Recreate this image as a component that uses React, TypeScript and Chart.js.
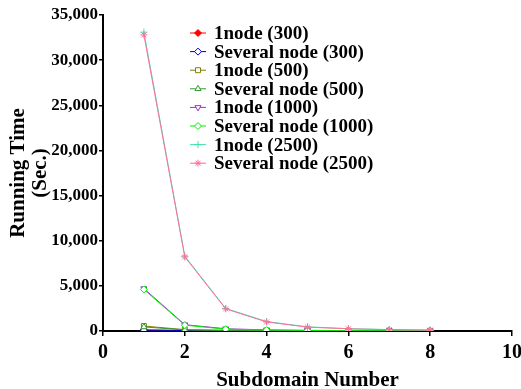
import React, { useEffect, useRef } from "react";
import { Chart, registerables } from "chart.js";
import { drawPoint } from "chart.js/helpers";

Chart.register(...registerables);

const xValues = [1, 2, 3, 4, 5, 6, 7, 8];
const seriesNames = [
  "1node (300)",
  "Several node (300)",
  "1node (500)",
  "Several node (500)",
  "1node (1000)",
  "Several node (1000)",
  "1node (2500)",
  "Several node (2500)",
];
const oneNode300 = [120, 60, 30, 20, 15, 10, 8, 6];
const severalNode300 = [100, 50, 25, 15, 10, 8, 6, 5];
const oneNode500 = [550, 150, 80, 50, 35, 25, 20, 15];
const severalNode500 = [450, 120, 60, 40, 30, 20, 15, 12];
const oneNode1000 = [4700, 700, 250, 120, 70, 50, 35, 25];
const severalNode1000 = [4600, 650, 200, 100, 60, 40, 30, 20];
const oneNode2500 = [33100, 8300, 2500, 1050, 460, 260, 160, 110];
const severalNode2500 = [32800, 8200, 2450, 1000, 430, 240, 140, 95];
const yTicksMax = 35000;
const yStep = 5000;
const xMax = 10;
const xStep = 2;

const colors = ["#ff0000", "#0000cc", "#808000", "#339933", "#9933cc", "#00ee00", "#40e0b0", "#ff6f9a"];
const pointStyles = ["rectRot", "rectRot", "rect", "triangle", "triangle", "rectRot", "cross", "star"];
const rotations = [0, 0, 0, 0, 180, 0, 0, 0];
const filled = [true, false, false, false, false, false, false, false];
const allValues = [oneNode300, severalNode300, oneNode500, severalNode500, oneNode1000, severalNode1000, oneNode2500, severalNode2500];

const FONT = "'Liberation Serif', 'Times New Roman', serif";

const legendPlugin = {
  id: "customLegend",
  afterDraw(chart: any) {
    const ctx = chart.ctx;
    ctx.save();
    const x0 = 190;
    const y0 = 33;
    const dy = 18.6;
    seriesNames.forEach((name, i) => {
      const y = y0 + i * dy;
      ctx.strokeStyle = colors[i];
      ctx.lineWidth = 1;
      ctx.beginPath();
      ctx.moveTo(x0, y);
      ctx.lineTo(x0 + 16, y);
      ctx.stroke();
      ctx.fillStyle = filled[i] ? colors[i] : "#ffffff";
      drawPoint(ctx, { pointStyle: pointStyles[i], rotation: rotations[i], radius: 3.5, borderWidth: 1 } as any, x0 + 8, y);
      ctx.fillStyle = "#000000";
      ctx.font = `bold 19px ${FONT}`;
      ctx.textBaseline = "middle";
      ctx.textAlign = "left";
      ctx.fillText(name, x0 + 24, y + 1);
    });
    ctx.restore();
  },
};

export default function App() {
  const ref = useRef<HTMLCanvasElement>(null);
  useEffect(() => {
    if (!ref.current) return;
    const datasets = allValues.map((vals, i) => ({
      label: seriesNames[i],
      data: xValues.map((x, j) => ({ x, y: vals[j] })),
      borderColor: colors[i],
      backgroundColor: filled[i] ? colors[i] : "#ffffff",
      pointStyle: pointStyles[i],
      rotation: rotations[i],
      pointRadius: 3.5,
      pointBorderWidth: 1,
      borderWidth: 1,
      tension: 0,
      order: 10 - i,
    }));
    const chart = new Chart(ref.current, {
      type: "line",
      data: { datasets },
      plugins: [legendPlugin],
      options: {
        animation: false,
        responsive: false,
        maintainAspectRatio: false,
        layout: { padding: { top: 15, right: 9, left: 0, bottom: 0 } },
        plugins: { legend: { display: false }, tooltip: { enabled: false } },
        scales: {
          x: {
            type: "linear",
            min: 0,
            max: xMax,
            ticks: { stepSize: xStep, color: "#000", font: { family: FONT, size: 20, weight: "bold" }, padding: 5 },
            grid: { display: true, drawOnChartArea: false, drawTicks: true, tickLength: 5, color: "#000", lineWidth: 1.5 },
            border: { display: true, color: "#000", width: 2 },
            title: { display: true, text: "Subdomain Number", color: "#000", font: { family: FONT, size: 21, weight: "bold", lineHeight: 1 }, padding: { top: 0, bottom: -2 } },
            afterFit: (s: any) => { s.height = 58; s.paddingRight = 0; s.paddingLeft = 0; },
          },
          y: {
            min: 0,
            max: yTicksMax,
            ticks: { stepSize: yStep, color: "#000", font: { family: FONT, size: 17, weight: "bold" }, padding: 1 },
            grid: { display: true, drawOnChartArea: false, drawTicks: true, tickLength: 4, color: "#000", lineWidth: 1.5 },
            border: { display: true, color: "#000", width: 2 },
            title: { display: true, text: ["Running Time", "(Sec.)"], color: "#000", font: { family: FONT, size: 21, weight: "bold", lineHeight: 1.05 }, padding: { top: 8, bottom: 0 } },
            afterFit: (s: any) => { s.width = 103; s.paddingTop = 0; s.paddingBottom = 0; },
          },
        },
      },
    });
    return () => chart.destroy();
  }, []);
  return (
    <div style={{ position: "fixed", left: 0, top: 0, width: 521, height: 389, background: "#fff" }}>
      <canvas ref={ref} width={521} height={389} style={{ width: 521, height: 389 }} />
    </div>
  );
}
